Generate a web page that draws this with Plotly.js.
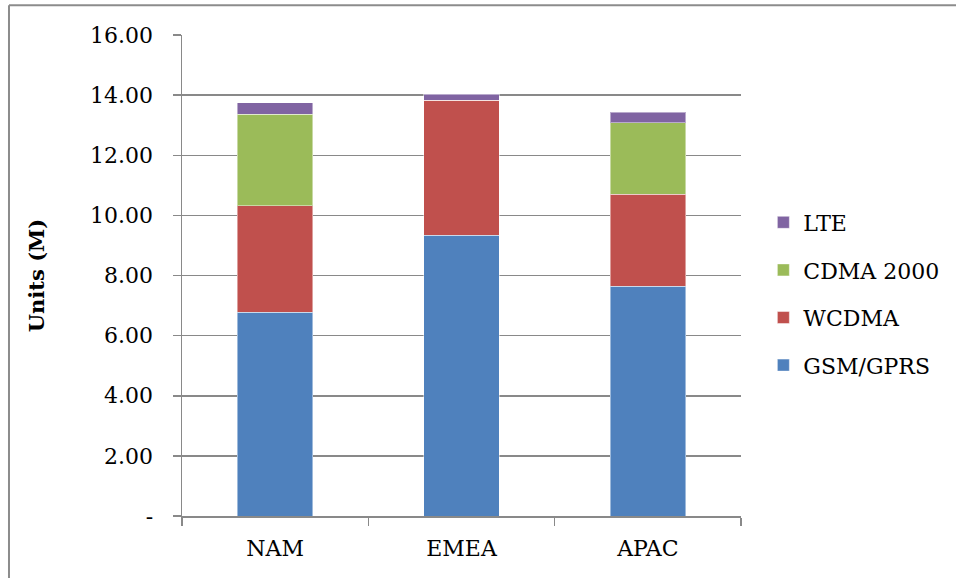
<!DOCTYPE html>
<html>
<head>
<meta charset="utf-8">
<script src="https://cdn.plot.ly/plotly-3.0.1.min.js"></script>
<style>
html,body{margin:0;padding:0;background:#fff;}
#chart{width:956px;height:578px;}
</style>
</head>
<body>
<div id="chart"></div>
<script>
const regions = ["NAM", "EMEA", "APAC"];
const gsm = [6.78, 9.34, 7.65];
const wcdma = [3.54, 4.49, 3.06];
const cdma = [3.05, 0.0, 2.37];
const lte = [0.38, 0.20, 0.35];
const seriesNames = ["GSM/GPRS", "WCDMA", "CDMA 2000", "LTE"];
const seriesColors = ["#4F81BD", "#C0504D", "#9BBB59", "#8064A2"];
const yTickVals = [0, 2, 4, 6, 8, 10, 12, 14, 16];
const yTickText = ["-", "2.00", "4.00", "6.00", "8.00", "10.00", "12.00", "14.00", "16.00"];

const FONT = "DejaVu Serif, Liberation Serif, serif";
const seriesData = [gsm, wcdma, cdma, lte];
const traces = seriesData.map((vals, i) => ({
  type: "bar",
  name: seriesNames[i],
  x: regions,
  y: vals,
  legendgroup: "g" + i,
  legendrank: 1000 - i,
  marker: {color: seriesColors[i], line: {color: "rgba(255,255,255,0.45)", width: 1}},
  hoverinfo: "x+y+name"
}));

const layout = {
  width: 956,
  height: 578,
  barmode: "stack",
  bargap: 0.595,
  paper_bgcolor: "#ffffff",
  plot_bgcolor: "#ffffff",
  margin: {l: 182, r: 215, t: 35, b: 62, pad: 0, autoexpand: false},
  font: {family: FONT, size: 22, color: "#000"},
  showlegend: true,
  legend: {
    x: 1.04, y: 0.4615, xanchor: "left", yanchor: "middle",
    traceorder: "grouped",
    tracegroupgap: 16,
    font: {family: FONT, size: 22, color: "#000"},
    bgcolor: "rgba(0,0,0,0)"
  },
  xaxis: {
    type: "category",
    showline: true, linecolor: "#898989", linewidth: 1.5,
    ticks: "outside", ticklen: 8, tickcolor: "#898989", tickwidth: 1.5,
    tickson: "boundaries",
    showgrid: false,
    tickfont: {family: FONT, size: 22, color: "#000"},
    ticklabelstandoff: 12
  },
  yaxis: {
    range: [0, 16],
    tickvals: yTickVals,
    ticktext: yTickText,
    showline: true, linecolor: "#898989", linewidth: 1.5,
    ticks: "outside", ticklen: 8, tickcolor: "#898989", tickwidth: 1.5,
    showgrid: true, gridcolor: "#898989", gridwidth: 1.5,
    zeroline: false,
    tickfont: {family: FONT, size: 22, color: "#000"},
    ticklabelstandoff: 15,
    title: {text: "<b>Units (M)</b>", font: {family: FONT, size: 21, color: "#000"}, standoff: 40}
  },
  shapes: [
    {type: "line", xref: "paper", yref: "paper", x0: -0.3095, x1: 1.39, y0: 1.062, y1: 1.062, line: {color: "#8c8c8c", width: 2}},
    {type: "line", xref: "paper", yref: "paper", x0: -0.3095, x1: -0.3095, y0: 1.062, y1: -0.14, line: {color: "#8c8c8c", width: 2}}
  ]
};

Plotly.newPlot("chart", traces, layout, {displayModeBar: false, staticPlot: true});
</script>
</body>
</html>
